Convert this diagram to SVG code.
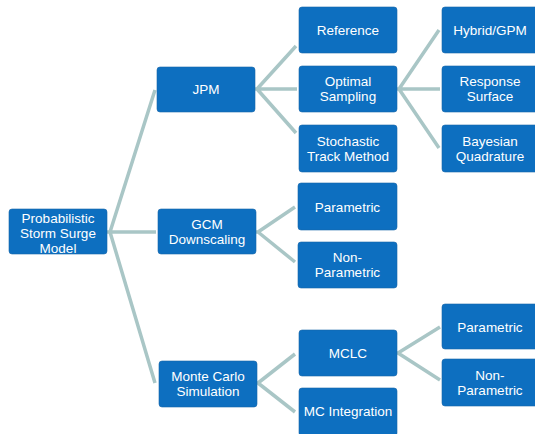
<svg xmlns="http://www.w3.org/2000/svg" width="535" height="434" viewBox="0 0 535 434">
<style>
.b{fill:#0D6FC0;stroke:#1565A8;stroke-width:0.6}
.t{font-family:"Liberation Sans",Arial,sans-serif;font-size:13.5px;fill:#FFFFFF;text-anchor:middle}
.c{fill:none;stroke:#A9C6C6;stroke-width:3.5;stroke-linejoin:round}
</style>
<rect x="0" y="0" width="535" height="434" fill="#FFFFFF"/>
<g id="connectors">
<path class="c" d="M107 232 L110 232 L155 90 M110 232 L156 232 M110 232 L155 383"/>
<path class="c" d="M255 89 L257 89 L296 46 M257 89 L297 89 M257 89 L296 133"/>
<path class="c" d="M397 89 L399 89 L439 30 M399 89 L440 89 M399 89 L439 148"/>
<path class="c" d="M256 232 L258 232 L295 207 M258 232 L295 262"/>
<path class="c" d="M257 383 L258 383 L295 354 M258 383 L295 412"/>
<path class="c" d="M397 353 L398 353 L440 327 M398 353 L440 380"/>
</g>
<g id="root"><rect class="b" x="9" y="209" width="98" height="45" rx="3"/><text class="t" x="58" y="222.5">Probabilistic<tspan x="58" dy="15">Storm Surge</tspan><tspan x="58" dy="15">Model</tspan></text></g>
<g id="jpm"><rect class="b" x="157" y="67" width="98" height="45" rx="3"/><text class="t" x="206" y="94">JPM</text></g>
<g id="gcm"><rect class="b" x="158" y="209" width="98" height="45" rx="3"/><text class="t" x="207" y="229">GCM<tspan x="207" dy="15">Downscaling</tspan></text></g>
<g id="montecarlo"><rect class="b" x="159" y="361" width="98" height="46" rx="3"/><text class="t" x="208" y="381">Monte Carlo<tspan x="208" dy="15">Simulation</tspan></text></g>
<g id="reference"><rect class="b" x="299" y="7" width="98" height="46" rx="3"/><text class="t" x="348" y="35">Reference</text></g>
<g id="optimal"><rect class="b" x="299" y="66" width="98" height="46" rx="3"/><text class="t" x="348" y="86">Optimal<tspan x="348" dy="15">Sampling</tspan></text></g>
<g id="stochastic"><rect class="b" x="299" y="125" width="98" height="47" rx="3"/><text class="t" x="348" y="145.5">Stochastic<tspan x="348" dy="15">Track Method</tspan></text></g>
<g id="hybrid"><rect class="b" x="442" y="7" width="96" height="46" rx="3"/><text class="t" x="490" y="35">Hybrid/GPM</text></g>
<g id="response"><rect class="b" x="442" y="66" width="96" height="46" rx="3"/><text class="t" x="490" y="86">Response<tspan x="490" dy="15">Surface</tspan></text></g>
<g id="bayesian"><rect class="b" x="442" y="125" width="96" height="47" rx="3"/><text class="t" x="490" y="145.5">Bayesian<tspan x="490" dy="15">Quadrature</tspan></text></g>
<g id="gcm-parametric"><rect class="b" x="298" y="183" width="99" height="47" rx="3"/><text class="t" x="347.5" y="211.5">Parametric</text></g>
<g id="gcm-nonparametric"><rect class="b" x="298" y="242" width="99" height="46" rx="3"/><text class="t" x="347.5" y="262">Non-<tspan x="347.5" dy="15">Parametric</tspan></text></g>
<g id="mclc"><rect class="b" x="299" y="330" width="98" height="46" rx="3"/><text class="t" x="348" y="358">MCLC</text></g>
<g id="mcintegration"><rect class="b" x="299" y="388" width="98" height="48" rx="3"/><text class="t" x="348" y="416">MC Integration</text></g>
<g id="mclc-parametric"><rect class="b" x="442" y="304" width="96" height="45" rx="3"/><text class="t" x="490" y="331.5">Parametric</text></g>
<g id="mclc-nonparametric"><rect class="b" x="442" y="359" width="96" height="47" rx="3"/><text class="t" x="490" y="379.5">Non-<tspan x="490" dy="15">Parametric</tspan></text></g>
</svg>
